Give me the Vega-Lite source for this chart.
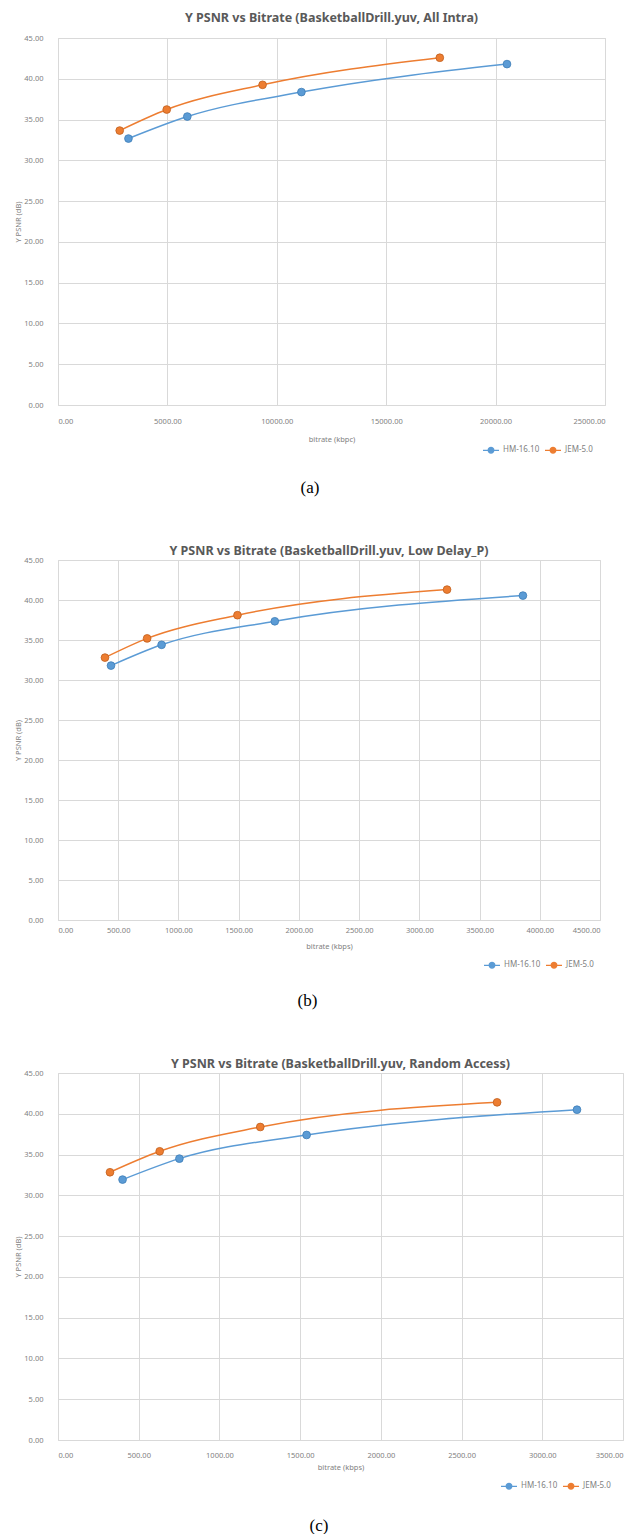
{
  "$schema": "https://vega.github.io/schema/vega-lite/v6.json",
  "background": "white",
  "padding": {"left": 14, "top": 11, "right": 5, "bottom": 0},
  "spacing": 48,
  "resolve": {"scale": {"color": "independent", "stroke": "independent"}, "legend": {"color": "independent"}},
  "datasets": {
    "intra": [
      {"codec": "HM-16.10", "bitrate": 3220, "psnr": 32.67},
      {"codec": "HM-16.10", "bitrate": 5910, "psnr": 35.37},
      {"codec": "HM-16.10", "bitrate": 11125, "psnr": 38.37},
      {"codec": "HM-16.10", "bitrate": 20520, "psnr": 41.8},
      {"codec": "JEM-5.0", "bitrate": 2820, "psnr": 33.65},
      {"codec": "JEM-5.0", "bitrate": 4970, "psnr": 36.23},
      {"codec": "JEM-5.0", "bitrate": 9350, "psnr": 39.26},
      {"codec": "JEM-5.0", "bitrate": 17450, "psnr": 42.58}
    ],
    "lowdelay": [
      {"codec": "HM-16.10", "bitrate": 440, "psnr": 31.8},
      {"codec": "HM-16.10", "bitrate": 860, "psnr": 34.4},
      {"codec": "HM-16.10", "bitrate": 1800, "psnr": 37.34},
      {"codec": "HM-16.10", "bitrate": 3860, "psnr": 40.55},
      {"codec": "JEM-5.0", "bitrate": 390, "psnr": 32.8},
      {"codec": "JEM-5.0", "bitrate": 740, "psnr": 35.2},
      {"codec": "JEM-5.0", "bitrate": 1490, "psnr": 38.1},
      {"codec": "JEM-5.0", "bitrate": 3230, "psnr": 41.3}
    ],
    "random": [
      {"codec": "HM-16.10", "bitrate": 400, "psnr": 31.93},
      {"codec": "HM-16.10", "bitrate": 752, "psnr": 34.5},
      {"codec": "HM-16.10", "bitrate": 1540, "psnr": 37.4},
      {"codec": "HM-16.10", "bitrate": 3215, "psnr": 40.5},
      {"codec": "JEM-5.0", "bitrate": 322, "psnr": 32.83},
      {"codec": "JEM-5.0", "bitrate": 630, "psnr": 35.4},
      {"codec": "JEM-5.0", "bitrate": 1253, "psnr": 38.38},
      {"codec": "JEM-5.0", "bitrate": 2720, "psnr": 41.4}
    ]
  },
  "config": {
    "font": "Noto Sans",
    "view": {"stroke": "#d9d9d9", "strokeWidth": 1},
    "title": {"font": "Noto Sans", "fontSize": 12.5, "fontWeight": "bold", "color": "#595959", "offset": -1.5, "frame": "group", "anchor": "middle"},
    "axis": {
      "domain": false, "ticks": false, "grid": true, "gridColor": "#d9d9d9", "gridWidth": 1,
      "labelFont": "Noto Sans", "labelFontSize": 7.5, "labelColor": "#7f7f7f",
      "titleFont": "Noto Sans", "titleFontSize": 7.5, "titleFontWeight": "normal", "titleColor": "#7f7f7f"
    },
    "axisY": {"labelPadding": 15, "titlePadding": 1},
    "legend": {
      "orient": "none", "direction": "horizontal", "title": null,
      "labelFont": "Noto Sans", "labelFontSize": 8, "labelColor": "#7f7f7f", "labelOffset": 3,
      "columnPadding": 2,
      "symbolType": "M-1,0H1M-0.35,0A0.35,0.35,0,1,0,0.35,0A0.35,0.35,0,1,0,-0.35,0",
      "symbolSize": 256, "symbolStrokeWidth": 1.3
    }
  },
  "vconcat": [
    {
      "title": {"text": "(a)", "orient": "bottom", "anchor": "middle", "frame": "bounds", "font": "Liberation Serif", "fontSize": 17, "fontWeight": "normal", "color": "#000000", "offset": 24},
      "vconcat": [
        {
          "width": 547, "height": 367,
          "title": {"text": "Y PSNR vs Bitrate (BasketballDrill.yuv, All Intra)", "offset": 10},
          "data": {"name": "intra"},
          "encoding": {
            "x": {"field": "bitrate", "type": "quantitative", "scale": {"domain": [0, 25000], "nice": false},
                  "axis": {"values": [0, 5000, 10000, 15000, 20000, 25000], "format": ".2f", "title": "bitrate (kbpc)", "labelPadding": 12, "titlePadding": 11}},
            "y": {"field": "psnr", "type": "quantitative", "scale": {"domain": [0, 45], "nice": false, "zero": true},
                  "axis": {"values": [0, 5, 10, 15, 20, 25, 30, 35, 40, 45], "format": ".2f", "title": "Y PSNR (dB)"}},
            "color": {"field": "codec", "type": "nominal",
                      "scale": {"domain": ["HM-16.10", "JEM-5.0"], "range": ["#5B9BD5", "#ED7D31"]},
                      "legend": {"legendX": 424, "legendY": 403}}
          },
          "layer": [
            {"mark": {"type": "line", "interpolate": "monotone", "strokeWidth": 1.5}},
            {"mark": {"type": "point", "filled": true, "size": 60, "opacity": 1, "strokeWidth": 0.8},
             "encoding": {"stroke": {"field": "codec", "type": "nominal", "scale": {"domain": ["HM-16.10", "JEM-5.0"], "range": ["#3E7DB8", "#C05F1E"]}, "legend": null}}}
          ]
        }
      ]
    },
    {
      "title": {"text": "(b)", "orient": "bottom", "anchor": "middle", "frame": "bounds", "font": "Liberation Serif", "fontSize": 17, "fontWeight": "normal", "color": "#000000", "offset": 22},
      "vconcat": [
        {
          "width": 542, "height": 360,
          "title": {"text": "Y PSNR vs Bitrate (BasketballDrill.yuv, Low Delay_P)"},
          "data": {"name": "lowdelay"},
          "encoding": {
            "x": {"field": "bitrate", "type": "quantitative", "scale": {"domain": [0, 4500], "nice": false},
                  "axis": {"values": [0, 500, 1000, 1500, 2000, 2500, 3000, 3500, 4000, 4500], "format": ".2f", "title": "bitrate (kbps)", "labelPadding": 6, "titlePadding": 9}},
            "y": {"field": "psnr", "type": "quantitative", "scale": {"domain": [0, 45], "nice": false, "zero": true},
                  "axis": {"values": [0, 5, 10, 15, 20, 25, 30, 35, 40, 45], "format": ".2f", "title": "Y PSNR (dB)"}},
            "color": {"field": "codec", "type": "nominal",
                      "scale": {"domain": ["HM-16.10", "JEM-5.0"], "range": ["#5B9BD5", "#ED7D31"]},
                      "legend": {"legendX": 425, "legendY": 396}}
          },
          "layer": [
            {"mark": {"type": "line", "interpolate": "monotone", "strokeWidth": 1.5}},
            {"mark": {"type": "point", "filled": true, "size": 60, "opacity": 1, "strokeWidth": 0.8},
             "encoding": {"stroke": {"field": "codec", "type": "nominal", "scale": {"domain": ["HM-16.10", "JEM-5.0"], "range": ["#3E7DB8", "#C05F1E"]}, "legend": null}}}
          ]
        }
      ]
    },
    {
      "title": {"text": "(c)", "orient": "bottom", "anchor": "middle", "frame": "bounds", "font": "Liberation Serif", "fontSize": 17, "fontWeight": "normal", "color": "#000000", "offset": 26},
      "vconcat": [
        {
          "width": 565, "height": 367,
          "title": {"text": "Y PSNR vs Bitrate (BasketballDrill.yuv, Random Access)"},
          "data": {"name": "random"},
          "encoding": {
            "x": {"field": "bitrate", "type": "quantitative", "scale": {"domain": [0, 3500], "nice": false},
                  "axis": {"values": [0, 500, 1000, 1500, 2000, 2500, 3000, 3500], "format": ".2f", "title": "bitrate (kbps)", "labelPadding": 11, "titlePadding": 5}},
            "y": {"field": "psnr", "type": "quantitative", "scale": {"domain": [0, 45], "nice": false, "zero": true},
                  "axis": {"values": [0, 5, 10, 15, 20, 25, 30, 35, 40, 45], "format": ".2f", "title": "Y PSNR (dB)"}},
            "color": {"field": "codec", "type": "nominal",
                      "scale": {"domain": ["HM-16.10", "JEM-5.0"], "range": ["#5B9BD5", "#ED7D31"]},
                      "legend": {"legendX": 442, "legendY": 404}}
          },
          "layer": [
            {"mark": {"type": "line", "interpolate": "monotone", "strokeWidth": 1.5}},
            {"mark": {"type": "point", "filled": true, "size": 60, "opacity": 1, "strokeWidth": 0.8},
             "encoding": {"stroke": {"field": "codec", "type": "nominal", "scale": {"domain": ["HM-16.10", "JEM-5.0"], "range": ["#3E7DB8", "#C05F1E"]}, "legend": null}}}
          ]
        }
      ]
    }
  ]
}
